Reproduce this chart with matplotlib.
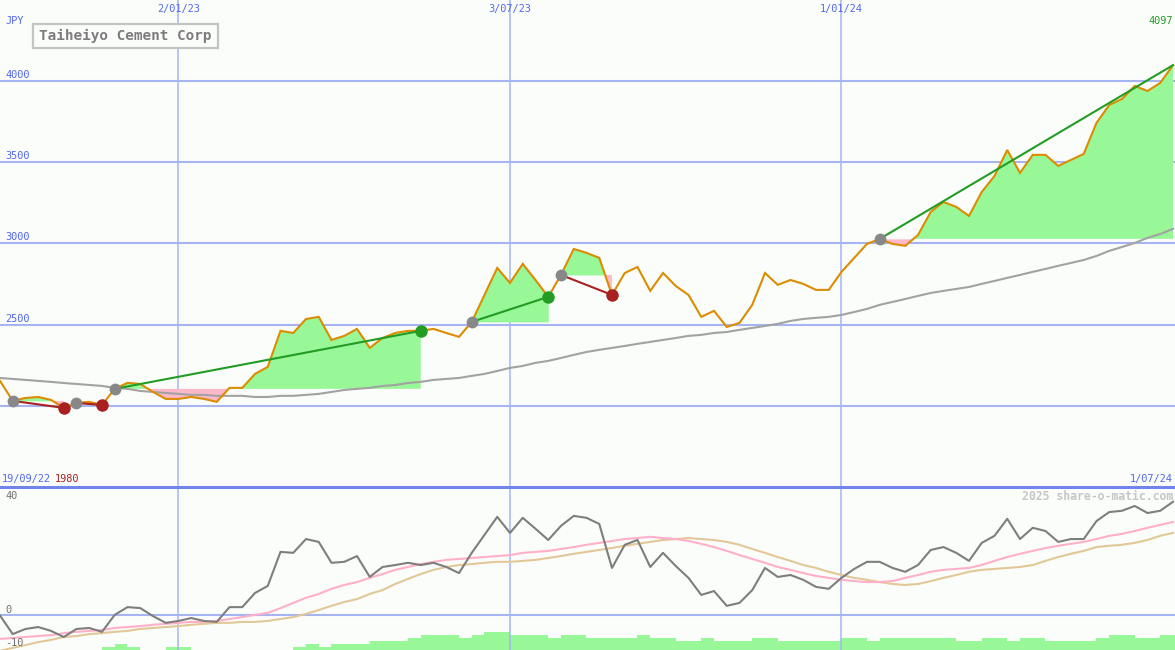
import matplotlib
matplotlib.use("Agg")
import matplotlib.pyplot as plt
import matplotlib.dates as mdates
from matplotlib.lines import Line2D
from matplotlib.patches import Rectangle
import pandas as pd
import numpy as np

# ---------------- data ----------------
TITLE = "Taiheiyo Cement Corp"
START_DATE = "2022-09-26"          # weekly points
START_LABEL = "19/09/22"
END_LABEL = "1/07/24"
LOW_LABEL = "1980"
LAST_LABEL = "4097"
CURRENCY = "JPY"

price = [2154, 2031, 2049, 2055, 2037, 1988, 2018, 2025, 2006, 2105,
         2142, 2135, 2086, 2043, 2043, 2055, 2043, 2025, 2111, 2111,
         2197, 2240, 2462, 2449, 2535, 2548, 2406, 2431, 2474, 2357,
         2418, 2449, 2462, 2462, 2474, 2449, 2425, 2517, 2683, 2849,
         2757, 2874, 2775, 2671, 2806, 2966, 2942, 2911, 2683, 2818,
         2855, 2708, 2818, 2738, 2683, 2548, 2585, 2486, 2511, 2622,
         2818, 2745, 2775, 2751, 2714, 2714, 2825, 2911, 2997, 3028,
         2997, 2985, 3052, 3194, 3255, 3225, 3169, 3317, 3415, 3575,
         3434, 3545, 3545, 3477, 3514, 3551, 3742, 3852, 3889, 3969,
         3938, 3988, 4097]

long_ma = [2172, 2166, 2160, 2154, 2148, 2141, 2135, 2129, 2123, 2111,
           2105, 2092, 2086, 2080, 2074, 2068, 2068, 2062, 2062, 2062,
           2055, 2055, 2062, 2062, 2068, 2074, 2086, 2098, 2105, 2111,
           2123, 2129, 2141, 2148, 2160, 2166, 2172, 2185, 2197, 2215,
           2234, 2246, 2265, 2277, 2295, 2314, 2332, 2345, 2357, 2369,
           2382, 2394, 2406, 2418, 2431, 2437, 2449, 2455, 2468, 2480,
           2492, 2505, 2523, 2535, 2542, 2548, 2560, 2578, 2597, 2622,
           2640, 2658, 2677, 2695, 2708, 2720, 2732, 2751, 2769, 2788,
           2806, 2825, 2843, 2862, 2880, 2898, 2923, 2954, 2978, 3003,
           3034, 3058, 3089]

momentum = [0.0, -5.8, -4.2, -3.6, -4.8, -6.7, -4.2, -3.9, -5.1, 0.2,
            2.6, 2.3, -0.2, -2.3, -1.7, -0.8, -1.7, -2.0, 2.6, 2.6,
            7.0, 9.2, 19.8, 19.5, 23.8, 22.9, 16.4, 16.7, 18.5, 12.0,
            15.1, 15.7, 16.4, 15.7, 16.4, 15.1, 13.2, 19.5, 25.1, 30.7,
            25.7, 30.4, 27.0, 23.5, 27.9, 31.0, 30.4, 28.5, 14.8, 22.0,
            23.5, 15.1, 19.5, 15.4, 11.7, 6.4, 7.6, 3.0, 3.9, 7.9,
            14.8, 12.0, 12.6, 11.1, 8.9, 8.3, 11.7, 14.5, 16.7, 16.7,
            14.8, 13.6, 15.7, 20.4, 21.3, 19.5, 17.0, 22.6, 24.8, 30.1,
            23.8, 27.3, 26.3, 22.9, 23.8, 23.8, 29.4, 32.2, 32.6, 34.1,
            31.9, 32.6, 35.4]

mom_fast = [-7.3, -7.0, -6.7, -6.4, -6.1, -5.5, -5.1, -4.8, -4.5, -3.9,
            -3.6, -3.3, -2.9, -2.6, -2.3, -2.0, -2.0, -1.7, -1.1, -0.5,
            0.2, 0.8, 2.3, 3.9, 5.5, 6.7, 8.3, 9.5, 10.4, 11.7,
            12.9, 14.2, 15.1, 16.0, 16.7, 17.3, 17.6, 17.9, 18.2, 18.5,
            18.8, 19.5, 19.8, 20.1, 20.7, 21.3, 22.0, 22.6, 23.2, 23.8,
            24.1, 24.5, 24.1, 23.8, 23.2, 22.3, 21.3, 20.1, 18.8, 17.6,
            16.4, 15.1, 14.2, 13.2, 12.3, 11.7, 11.1, 10.7, 10.4, 10.4,
            10.7, 11.7, 12.6, 13.6, 14.2, 14.5, 14.8, 15.7, 17.0, 18.2,
            19.2, 20.1, 21.0, 21.7, 22.3, 22.9, 23.8, 24.8, 25.4, 26.3,
            27.3, 28.2, 29.1]

mom_slow = [-11.0, -10.1, -9.2, -8.3, -7.6, -6.7, -6.4, -5.8, -5.5, -5.1,
            -4.8, -4.2, -3.9, -3.6, -3.3, -2.9, -2.6, -2.3, -2.3, -2.0,
            -2.0, -1.7, -1.1, -0.5, 0.5, 1.7, 3.0, 4.2, 5.1, 6.7,
            7.9, 9.8, 11.4, 12.9, 14.2, 15.1, 15.7, 16.0, 16.4, 16.7,
            16.7, 17.0, 17.3, 17.9, 18.5, 19.2, 19.8, 20.4, 21.0, 21.7,
            22.3, 22.9, 23.5, 23.8, 24.1, 23.8, 23.5, 22.9, 22.0, 20.7,
            19.5, 18.2, 17.0, 15.7, 14.8, 13.6, 12.6, 11.7, 11.1, 10.4,
            9.8, 9.5, 9.8, 10.7, 11.7, 12.6, 13.6, 14.2, 14.5, 14.8,
            15.1, 15.7, 17.0, 18.2, 19.2, 20.1, 21.3, 21.7, 22.0, 22.6,
            23.5, 24.8, 25.7]

volume = [0, 0, 0, 0, 0, 0, 0, 0, 1, 2,
          1, 0, 0, 1, 1, 0, 0, 0, 0, 0,
          0, 0, 0, 1, 2, 1, 2, 2, 2, 3,
          3, 3, 4, 5, 5, 5, 4, 5, 6, 6,
          5, 5, 5, 4, 5, 5, 4, 4, 4, 4,
          5, 4, 4, 3, 3, 4, 3, 3, 3, 4,
          4, 3, 3, 3, 3, 3, 4, 4, 3, 4,
          4, 4, 4, 4, 4, 3, 3, 4, 4, 3,
          4, 4, 3, 3, 3, 3, 4, 5, 5, 4,
          4, 5, 5]

# signals: (start index, end index, open?)
signals = [(1, 5, False), (6, 8, False), (9, 33, False),
           (37, 43, False), (44, 48, False), (69, 92, True)]

price_grid = [2000, 2500, 3000, 3500, 4000]
price_labels = ["2500", "3000", "3500", "4000"]
grid_dates = ["2023-01-02", "2023-07-03", "2024-01-01"]
grid_date_labels = ["2/01/23", "3/07/23", "1/01/24"]
mom_labels = ["40", "0", "-10"]

# ---------------- style ----------------
BG = "#fbfdfb"
GRID = "#a6b4f2"
SEP = "#7284ea"
LBL = "#5266f0"
ORANGE = "#dc8c00"
MA_GRAY = "#a2a2a2"
MOM_GRAY = "#7e7e7e"
PINK_LINE = "#ffb0c8"
TAN_LINE = "#e2c896"
FILL_G = "#98f898"
FILL_P = "#ffb8c8"
LINE_G = "#229c22"
LINE_R = "#a82020"
DOT_GRAY = "#888888"
MONO = "DejaVu Sans Mono"

W, H = 1175, 650
fig = plt.figure(figsize=(W / 100, H / 100), dpi=100)
fig.patch.set_facecolor(BG)

def fx(px):
    return px / W

def fy(py):
    return 1 - py / H

top_h = 487
ax = fig.add_axes([0, fy(top_h), 1, top_h / H])
axv = fig.add_axes([0, 0, 1, (H - top_h) / H])
axb = fig.add_axes([0, 0, 1, (H - top_h) / H])
for a in (ax, axv, axb):
    a.set_axis_off()
    a.patch.set_visible(False)

dates = pd.date_range(START_DATE, periods=len(price), freq="7D")
x = mdates.date2num(dates)
xmin, xmax = x[0], x[-1] + 1.1
for a in (ax, axv, axb):
    a.set_xlim(xmin, xmax)

ax.set_ylim(1501, 4498)
axb.set_ylim(-10.75, 40.0)
axv.set_ylim(0, 54.3)

# grid
for v in price_grid:
    ax.axhline(v, color=GRID, lw=1.5, zorder=1)
gx = mdates.date2num(pd.to_datetime(grid_dates))
for g in gx:
    ax.axvline(g, color=GRID, lw=1.1, zorder=1)
    axb.axvline(g, color=GRID, lw=1.1, zorder=1)
axb.axhline(0, color=GRID, lw=1.5, zorder=1)

# signal fills
price_a = np.array(price, dtype=float)
for s, e, _open in signals:
    level = price_a[s]
    xs = x[s:e + 1]
    ps = price_a[s:e + 1]
    ax.fill_between(xs, ps, level, where=ps >= level, interpolate=True,
                    color=FILL_G, lw=0, zorder=2)
    ax.fill_between(xs, ps, level, where=ps <= level, interpolate=True,
                    color=FILL_P, lw=0, zorder=2)

# long moving average and price
ax.plot(x, long_ma, color=MA_GRAY, lw=1.5, zorder=3)
ax.plot(x, price, color=ORANGE, lw=1.5, zorder=4, solid_joinstyle="miter")

# signal lines and dots
for s, e, is_open in signals:
    up = price[e] > price[s]
    col = LINE_G if up else LINE_R
    ax.plot([x[s], x[e]], [price[s], price[e]], color=col, lw=1.5, zorder=5)
    ax.plot(x[s], price[s], "o", ms=8.5, color=DOT_GRAY, mec="none", zorder=6)
    if not is_open:
        ax.plot(x[e], price[e], "o", ms=9, color=col, mec="none", zorder=6)

# separator
fig.add_artist(Line2D([0, 1], [fy(top_h)] * 2, transform=fig.transFigure,
                      color=SEP, lw=2.2, zorder=10))

# bottom panel
axv.bar(x, volume, width=7, align="edge", color=FILL_G, lw=0, zorder=1)
axb.plot(x, mom_slow, color=TAN_LINE, lw=1.5, zorder=3)
axb.plot(x, mom_fast, color=PINK_LINE, lw=1.5, zorder=3)
axb.plot(x, momentum, color=MOM_GRAY, lw=1.5, zorder=4)

# ---------------- texts ----------------
fs = 7.4
fig.text(fx(5), fy(21.5), CURRENCY, color=LBL, fontsize=fs, family=MONO,
         ha="left", va="center")
for g, lab in zip(gx, grid_date_labels):
    px_x = (g - xmin) / (xmax - xmin) * W
    fig.text(fx(px_x), fy(9), lab, color=LBL, fontsize=fs, family=MONO,
             ha="center", va="center")
fig.text(fx(1173), fy(21), LAST_LABEL, color=LINE_G, fontsize=fs, family=MONO,
         ha="right", va="center")
ylim = ax.get_ylim()
for lab in price_labels:
    v = float(lab)
    py = (1 - (v - ylim[0]) / (ylim[1] - ylim[0])) * top_h
    fig.text(fx(5), fy(py - 6), lab, color=LBL, fontsize=fs, family=MONO,
             ha="left", va="center")
t1 = fig.text(fx(2), fy(479), START_LABEL, color=LBL, fontsize=fs, family=MONO,
              ha="left", va="center")
fig.text(fx(55), fy(479), LOW_LABEL, color=LINE_R, fontsize=fs, family=MONO,
         ha="left", va="center")
fig.text(fx(1173), fy(479), END_LABEL, color=LBL, fontsize=fs, family=MONO,
         ha="right", va="center")
for lab, py in zip(mom_labels, [496, 610, 643]):
    fig.text(fx(5), fy(py), lab, color="#707070", fontsize=fs, family=MONO,
             ha="left", va="center")
fig.text(fx(1173), fy(496), "2025 share-o-matic.com", color="#c6c6c6",
         fontsize=8.3, family=MONO, fontweight="bold", ha="right", va="center")

# title box
fig.add_artist(Rectangle((fx(33), fy(48)), fx(185), (48 - 24) / H,
                         transform=fig.transFigure, facecolor=BG,
                         edgecolor="#c4c4c4", lw=1.6, zorder=11))
fig.text(fx(125.5), fy(36), TITLE, color="#7c7c7c", fontsize=10.4, family=MONO,
         fontweight="bold", ha="center", va="center", zorder=12)

fig.savefig("out.png", dpi=100, facecolor=BG)
